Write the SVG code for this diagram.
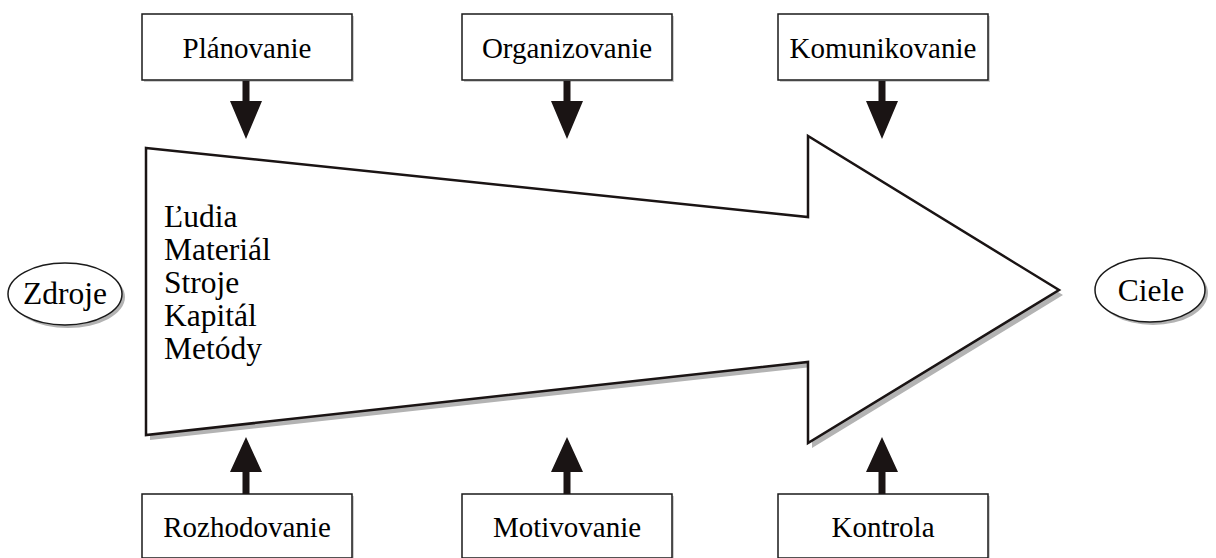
<svg xmlns="http://www.w3.org/2000/svg" width="1216" height="558" viewBox="0 0 1216 558">
<style>
  .box{fill:#fff;stroke:#1a1a1a;stroke-width:1.5}
  .sh{fill:#b3b3b3}
  .bsh{fill:#cfcfcf}
  .t{font-family:"Liberation Serif","Times New Roman",serif;font-size:29px;fill:#000}
  .l{font-size:31.5px}
  .c{text-anchor:middle}
  .arr{fill:#1a1414}
</style>
<defs>
  <path id="down" d="M-3.5,0 H3.5 V20 H16 L0,58 L-16,20 H-3.5 Z"/>
  <path id="up" d="M-3.5,0 H3.5 V-22 H16 L0,-57 L-16,-22 H-3.5 Z"/>
</defs>
<rect width="1216" height="558" fill="#fff"/>

<g id="main-arrow">
  <polygon class="sh" points="150,153 812,222 812,141 1063,295 812,448 812,367 150,440"/>
  <polygon points="146,148 808,217 808,136 1059,290 808,443 808,362 146,435" fill="#fff" stroke="#1a1414" stroke-width="2.5" stroke-linejoin="miter"/>
  <text class="t l" x="164" y="227">Ľudia</text>
  <text class="t l" x="164" y="260">Materiál</text>
  <text class="t l" x="164" y="293">Stroje</text>
  <text class="t l" x="164" y="326">Kapitál</text>
  <text class="t l" x="164" y="359">Metódy</text>
</g>

<g id="zdroje">
  <ellipse class="sh" cx="68" cy="297" rx="57" ry="31"/>
  <ellipse class="box" cx="65" cy="294" rx="57" ry="31"/>
  <text class="t l c" x="65" y="304">Zdroje</text>
</g>
<g id="ciele">
  <ellipse class="sh" cx="1153" cy="293" rx="55" ry="32"/>
  <ellipse class="box" cx="1150" cy="290" rx="55" ry="32"/>
  <text class="t l c" x="1151" y="301">Ciele</text>
</g>

<g id="planovanie">
  <rect class="bsh" x="144" y="16" width="210" height="66"/>
  <rect class="box" x="142" y="14" width="210" height="66"/>
  <text class="t c" x="247" y="58">Plánovanie</text>
</g>
<g id="organizovanie">
  <rect class="bsh" x="464" y="16" width="210" height="66"/>
  <rect class="box" x="462" y="14" width="210" height="66"/>
  <text class="t c" x="567" y="58">Organizovanie</text>
</g>
<g id="komunikovanie">
  <rect class="bsh" x="780" y="16" width="210" height="66"/>
  <rect class="box" x="778" y="14" width="210" height="66"/>
  <text class="t c" x="883" y="58">Komunikovanie</text>
</g>
<g id="rozhodovanie">
  <rect class="bsh" x="144" y="496" width="210" height="64"/>
  <rect class="box" x="142" y="494" width="210" height="64"/>
  <text class="t c" x="247" y="537">Rozhodovanie</text>
</g>
<g id="motivovanie">
  <rect class="bsh" x="464" y="496" width="210" height="64"/>
  <rect class="box" x="462" y="494" width="210" height="64"/>
  <text class="t c" x="567" y="537">Motivovanie</text>
</g>
<g id="kontrola">
  <rect class="bsh" x="780" y="496" width="210" height="64"/>
  <rect class="box" x="778" y="494" width="210" height="64"/>
  <text class="t c" x="883" y="537">Kontrola</text>
</g>

<g id="connectors" class="arr">
  <use href="#down" x="246" y="81"/>
  <use href="#down" x="567" y="81"/>
  <use href="#down" x="882" y="81"/>
  <use href="#up" x="246" y="494"/>
  <use href="#up" x="567" y="494"/>
  <use href="#up" x="882" y="494"/>
</g>
</svg>
